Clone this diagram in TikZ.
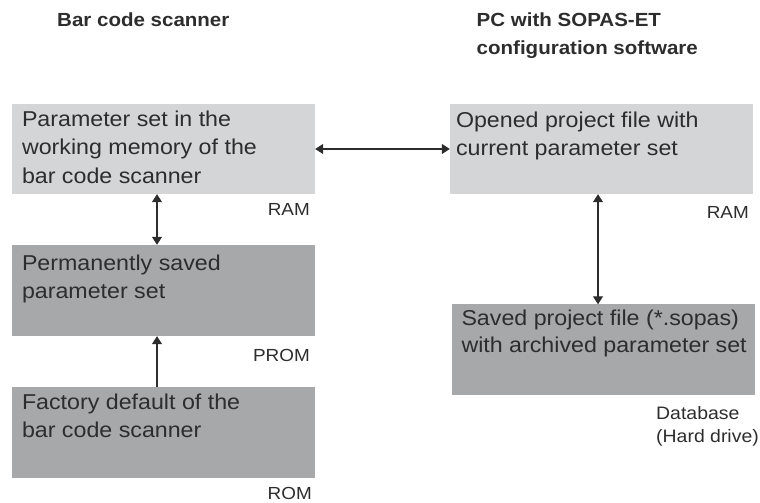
\documentclass[tikz,border=0pt]{standalone}
\usepackage{fontspec}
\setmainfont{Liberation Sans}[FakeStretch=1.08]
\usetikzlibrary{arrows.meta}
\definecolor{lightbox}{RGB}{212,213,215}
\definecolor{darkbox}{RGB}{167,168,170}
\definecolor{ink}{RGB}{45,45,45}
\tikzset{
  boxlight/.style={fill=lightbox, draw=none, minimum width=303pt, minimum height=90pt, inner sep=0pt},
  boxdark/.style={fill=darkbox, draw=none, minimum width=303pt, minimum height=91pt, inner sep=0pt},
  boxtext/.style={anchor=base west, align=left, inner sep=0pt, text=ink,
    font=\fontsize{21.5}{28.5}\selectfont},
  head/.style={anchor=base west, align=left, inner sep=0pt, text=ink,
    font=\fontsize{19}{28.3}\selectfont\bfseries},
  tag/.style={anchor=base east, inner sep=0pt, text=ink, font=\fontsize{17.5}{21}\selectfont},
  conn/.style={draw=ink, line width=1.3pt, {Triangle[length=8pt,width=10pt]}-{Triangle[length=8pt,width=10pt]}},
  conn1/.style={draw=ink, line width=1.3pt, -{Triangle[length=8pt,width=10pt]}}
}
\begin{document}
\begin{tikzpicture}[x=1pt,y=1pt]
\useasboundingbox (0,0) rectangle (760,503);
% boxes
\node[boxlight] (b1) at (163.5,354) {};
\node[boxdark]  (b2) at (163.5,212.5) {};
\node[boxdark]  (b3) at (163.5,70.5) {};
\node[boxlight] (b4) at (601.5,354) {};
\node[boxdark]  (b5) at (603.5,153) {};
% box texts (anchor is the baseline of the last line)
\node[boxtext] (t1) at ([shift={(10,-79.7)}]b1.north west) {Parameter set in the\\working memory of the\\bar code scanner};
\node[boxtext] (t2) at ([shift={(10,-54)}]b2.north west) {Permanently saved\\parameter set};
\node[boxtext] (t3) at ([shift={(10,-51)}]b3.north west) {Factory default of the\\bar code scanner};
\node[boxtext] (t4) at ([shift={(6,-52)}]b4.north west) {Opened project file with\\current parameter set};
\node[boxtext, font=\fontsize{21.5}{27.5}\selectfont] (t5) at ([shift={(9.5,-48.5)}]b5.north west) {Saved project file (*.sopas)\\with archived parameter set};
% headings
\node[head] (h1) at (57,476.3) {Bar code scanner};
\node[head] (h2) at (476.5,448) {PC with SOPAS-ET\\configuration software};
% memory tags
\node[tag] (r1) at (310,287) {RAM};
\node[tag] (r2) at (310,141.3) {PROM};
\node[tag] (r3) at (312,3) {ROM};
\node[tag] (r4) at (749,284) {RAM};
\node[anchor=base west, align=left, inner sep=0pt, text=ink,
  font=\fontsize{18}{23}\selectfont] (r5) at (656,60) {Database\\(Hard drive)};
% connectors
\coordinate (lx) at (157,0);
\coordinate (rx) at (598,0);
\draw[conn] (b1.east) -- (b4.west);
\draw[conn] (b1.south -| lx) -- (b2.north -| lx);
\draw[conn1] (b3.north -| lx) -- (b2.south -| lx);
\draw[conn] (b4.south -| rx) -- (b5.north -| rx);
\end{tikzpicture}
\end{document}
